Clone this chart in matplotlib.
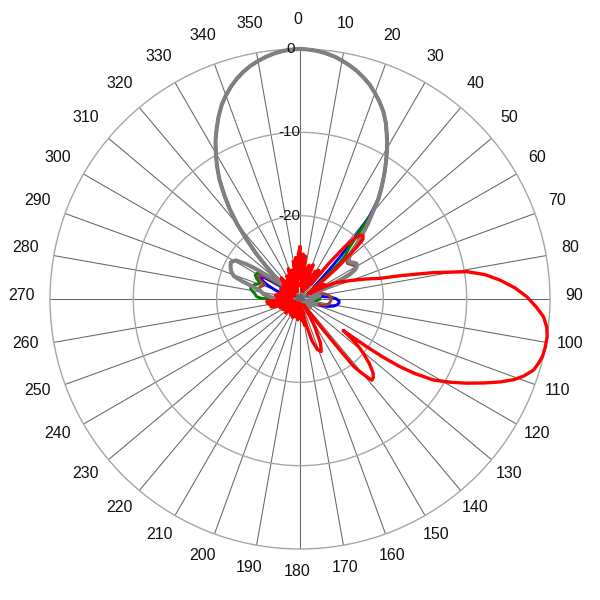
import numpy as np
import matplotlib
matplotlib.use('Agg')
import matplotlib.pyplot as plt

# -----------------------------------------------------------
# Data: relative level in dB, angle in degrees clockwise from north
# -----------------------------------------------------------

# main beam shared by the four vertical-beam traces
beam_ang = [-40, -38, -36, -34, -32, -30, -28, -26, -24, -22, -20, -18, -16, -14,
            -12, -10, -8, -6, -4, -2, 0, 2, 4, 6, 8, 10, 12, 14, 16, 18, 20, 22,
            24, 26, 28, 30, 32, 34, 36, 38]
beam_db = [-18.3, -16.3, -14.5, -12.7, -11.2, -9.8, -8.4, -7.2, -6.0, -4.9, -4.0,
           -3.2, -2.5, -1.9, -1.4, -1.0, -0.65, -0.37, -0.17, -0.05, 0.0, -0.05,
           -0.16, -0.35, -0.6, -0.95, -1.35, -1.8, -2.35, -2.95, -3.7, -4.5, -5.4,
           -6.5, -7.8, -9.1, -10.5, -11.9, -13.3, -14.7]

gray_ang = [40, 42, 44, 46, 48, 50, 52, 54, 56, 58, 60, 62, 64, 66, 68, 72, 80, 90,
            100, 110, 120, 130, 140, 150, 160, 170, 180, 190, 200, 210, 220, 230,
            240, 250, 260, 266, 270, 274, 278, 282, 285, 287, 289, 292, 295, 298,
            301, 303, 304.5, 306, 308, 310, 312, 314, 316, 318]
gray_db = [-16.4, -17.8, -19.2, -20.5, -21.8, -22.3, -22.6, -22.5, -22.2, -22.0,
           -22.1, -22.5, -23.5, -26.0, -28.0, -28.8, -27.6, -28.5, -29.0, -28.0,
           -29.3, -28.4, -29.4, -28.1, -29.0, -28.2, -29.5, -28.0, -29.0, -28.5,
           -29.5, -28.0, -29.0, -28.2, -28.6, -28.0, -27.2, -26.4, -25.6, -25.1,
           -24.0, -22.8, -21.6, -21.1, -20.8, -20.6, -21.0, -22.3, -23.8, -25.5,
           -27.0, -27.3, -26.0, -24.4, -22.4, -20.5]

green_ang = [40, 42, 44, 46, 47.5, 49, 51, 54, 60, 66, 72, 78, 84, 90, 96, 102, 110,
             120, 130, 140, 150, 160, 170, 180, 190, 200, 210, 220, 230, 240, 250,
             260, 266, 269, 271, 273, 277, 281, 284, 287, 290, 292, 295, 298, 301,
             303, 305, 308, 311, 313, 314, 316, 318]
green_db = [-16.6, -19.8, -21.6, -22.4, -23.5, -25.5, -27.5, -28.8, -28.2, -29.0,
            -28.0, -28.6, -27.8, -27.6, -28.0, -28.8, -29.2, -28.5, -29.4, -28.6,
            -29.2, -28.4, -29.3, -28.6, -29.4, -28.5, -29.2, -28.4, -29.3, -28.6,
            -29.0, -28.5, -28.0, -27.0, -25.4, -24.8, -24.5, -24.0, -23.9, -24.2,
            -24.7, -24.8, -24.3, -23.9, -24.0, -25.0, -26.4, -28.0, -27.0, -25.3,
            -24.5, -22.5, -20.5]

blue_ang = [40, 42, 43.5, 45, 47, 50, 56, 62, 68, 74, 80, 84, 87, 90, 93, 96, 99,
            102, 105, 108, 112, 120, 130, 140, 150, 160, 170, 180, 190, 200, 210,
            220, 230, 240, 250, 260, 270, 280, 286, 290, 293, 296, 299, 301, 303,
            306, 310, 312, 314, 316, 318]
blue_db = [-17.0, -20.5, -23.0, -25.0, -26.8, -28.0, -28.8, -28.2, -29.0, -28.6,
           -28.0, -27.2, -26.2, -25.6, -25.3, -25.3, -25.5, -25.9, -26.5, -27.6,
           -28.7, -29.2, -28.6, -29.4, -28.7, -29.2, -28.5, -29.3, -28.6, -29.4,
           -28.7, -29.2, -28.6, -29.3, -28.8, -29.0, -28.5, -28.6, -28.0, -26.8,
           -25.8, -25.0, -24.6, -25.0, -26.3, -28.0, -28.2, -26.2, -24.5, -22.5,
           -20.6]

brown_ang = [40, 42, 44, 46, 48, 50, 53, 56, 59, 61, 63, 65, 67, 70, 74, 78, 82, 86,
             89, 93, 97, 101, 104, 108, 114, 120, 130, 140, 150, 160, 170, 180,
             190, 200, 210, 220, 230, 240, 250, 260, 266, 270, 273, 277, 281, 284,
             287, 290, 292, 295, 298, 301, 303, 305, 308, 311, 313, 314, 316, 318]
brown_db = [-16.5, -17.9, -19.3, -20.7, -21.9, -22.6, -22.9, -22.6, -22.3, -22.4,
            -23.2, -25.0, -27.0, -28.0, -27.6, -27.0, -26.6, -26.3, -26.2, -26.3,
            -26.4, -26.6, -27.0, -28.0, -28.8, -29.2, -28.5, -29.3, -28.6, -29.2,
            -28.4, -29.3, -28.5, -29.2, -28.5, -29.3, -28.6, -29.2, -28.7, -28.8,
            -28.0, -27.0, -26.2, -25.6, -25.2, -24.9, -25.0, -25.3, -25.4, -24.8,
            -24.3, -24.4, -25.3, -26.6, -28.0, -27.0, -25.3, -24.5, -22.4, -20.5]

# the tilted trace, main lobe near 100 degrees
red_ang = [0, 2, 4, 5.5, 7, 9, 11, 13, 15, 17, 19, 21, 23, 25, 27, 29, 31, 33, 35,
           37, 39, 40.5, 42, 43.5, 45, 46.5, 47.5, 48.5, 50, 51.5, 53, 55, 57, 59,
           61, 63, 64.8, 67, 70, 73, 75.5, 77, 78.8, 80.7, 82.5, 84.6, 87, 89.4, 92,
           94.2, 96.5, 98.6, 101, 103.3, 105, 106.9, 109, 110.7, 112.5, 114.5,
           116.8, 119, 121.3, 123, 124.1, 125, 125.6, 126.1, 127.5, 129, 130.6,
           133, 135.4, 137, 138.5, 139.4, 140.5, 141.4, 142, 143, 145, 147.5,
           150.5, 152, 155, 158, 161, 164, 166.5, 168.5, 170, 172, 175, 178, 180,
           183, 186, 190, 194, 198, 202, 206, 210, 214, 218, 222, 226, 230, 234,
           238, 242, 246, 250, 253, 255, 257, 260, 262, 264, 265.5, 267, 270, 272,
           275, 277, 279, 282, 285, 288, 291, 294, 297, 300, 303, 306, 309, 312,
           315, 318.5, 321, 324, 327, 330, 333, 336, 339, 342, 345, 348, 350, 352,
           354, 356, 358]
red_db = [-23.8, -27.5, -24.6, -28.5, -24.8, -28.8, -26.2, -29.0, -25.8, -28.6,
          -26.4, -25.6, -29.0, -27.0, -28.6, -26.2, -28.4, -25.9, -27.0, -27.8,
          -24.5, -21.8, -20.2, -19.4, -19.3, -19.6, -20.8, -22.6, -24.2, -26.5,
          -28.2, -26.8, -28.8, -26.6, -28.6, -26.8, -25.6, -24.8, -23.5, -21.8,
          -20.1, -17.5, -13.7, -9.7, -7.6, -5.9, -4.2, -2.8, -1.6, -0.7, -0.2, 0.0,
          0.0, -0.1, -0.35, -0.7, -1.6, -2.6, -4.0, -5.7, -7.6, -9.4, -11.3, -13.6,
          -15.5, -17.8, -20.2, -23.6, -22.2, -21.0, -20.0, -18.6, -17.5, -17.1,
          -17.0, -17.7, -18.7, -19.6, -22.2, -25.3, -28.0, -29.2, -27.6, -26.2,
          -24.2, -23.2, -23.6, -24.8, -26.8, -28.6, -26.8, -29.0, -27.4, -29.4,
          -28.0, -29.5, -27.5, -29.0, -27.8, -29.4, -27.6, -29.4, -27.8, -29.3,
          -28.0, -29.5, -27.6, -29.0, -28.4, -27.6, -29.3, -27.4, -29.0, -26.8,
          -26.4, -28.5, -26.3, -26.1, -28.0, -26.0, -28.5, -27.4, -29.0, -27.2,
          -29.0, -27.0, -28.8, -27.4, -29.0, -27.6, -29.2, -27.4, -29.0, -27.6,
          -29.3, -27.4, -29.0, -27.1, -26.6, -29.0, -27.3, -29.0, -26.8, -28.8,
          -27.0, -26.1, -29.0, -26.4, -28.5, -25.4, -28.4, -25.0, -27.6, -24.6]

angle_labels = [str(a) for a in range(0, 360, 10)]
ring_levels = [0, -10, -20]


# -----------------------------------------------------------

def closed_trace(side_ang, side_db, with_beam=True):
    ang = list(side_ang)
    val = list(side_db)
    if with_beam:
        ang += beam_ang
        val += beam_db
    ang = np.array(ang, dtype=float)
    val = np.array(val, dtype=float)
    ang = np.where(ang < 0, ang + 360, ang)
    order = np.argsort(ang)
    ang, val = ang[order], val[order]
    ang = np.append(ang, ang[0] + 360)
    val = np.append(val, val[0])
    return np.deg2rad(ang), val


plt.rcParams['font.family'] = ['Liberation Sans', 'DejaVu Sans']

fig = plt.figure(figsize=(6, 6), dpi=100)
ax = fig.add_axes([50 / 600, 51 / 600, 500 / 600, 500 / 600], projection='polar')
ax.set_theta_zero_location('N')
ax.set_theta_direction(-1)
ax.set_ylim(-30, 0)

ax.set_xticks(np.deg2rad(np.arange(0, 360, 10)))
ax.set_xticklabels([])
ax.set_yticks([-20, -10])
ax.set_yticklabels([])
ax.tick_params(length=0)
ax.grid(axis='x', color='#666666', linewidth=0.75)
ax.grid(axis='y', color='#a6a6a6', linewidth=1.0)
ax.spines['polar'].set_color('#a6a6a6')
ax.spines['polar'].set_linewidth(1.0)

series = [
    (blue_ang, blue_db, '#0000ff', 2.1, True),
    (green_ang, green_db, '#008000', 2.1, True),
    (brown_ang, brown_db, '#a0403c', 2.1, True),
    (gray_ang, gray_db, '#808080', 2.9, True),
    (red_ang, red_db, '#ff0000', 2.4, False),
]
for s_ang, s_db, col, lw, beam in series:
    th, r = closed_trace(s_ang, s_db, beam)
    ax.plot(th, r, color=col, linewidth=lw, clip_on=False, zorder=3)

# ring level labels along the 0 degree spoke
for lev in ring_levels:
    dx = -5 if lev == 0 else 0
    ax.annotate(str(lev), xy=(0, lev), xytext=(dx, 0), textcoords='offset pixels',
                ha='right', va='center', fontsize=11, color='#111111', zorder=4)

# angle labels around the outside
cx, cy, rad = 297.5, 295.5, 276.5
for k, lab in enumerate(angle_labels):
    a = np.deg2rad(10 * k)
    px = cx + rad * np.sin(a)
    py = cy - rad * np.cos(a)
    fig.text(px / 600, 1 - py / 600, lab, ha='center', va='center',
             fontsize=11.5, color='#111111')

fig.savefig('out.png', dpi=100)
